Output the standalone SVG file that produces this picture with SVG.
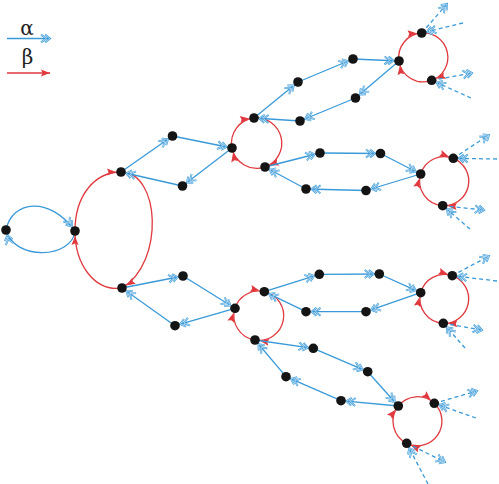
<svg xmlns="http://www.w3.org/2000/svg" width="499" height="484" viewBox="0 0 499 484">
<style>
.b{fill:none;stroke:#3a9ad9;stroke-width:1.3;marker-end:url(#mb)}
.bd{fill:none;stroke:#3a9ad9;stroke-width:1.3;stroke-dasharray:4 3}
.bo{marker-end:url(#mb0)}
.bi{marker-end:url(#mb)}
.r{fill:none;stroke:#e0393e;stroke-width:1.3;marker-end:url(#mr)}
.n{fill:#141414}
.lg{font-family:"DejaVu Serif","Liberation Serif",serif;font-size:20px;fill:#222;text-anchor:middle}
</style>
<defs>
<g id="chev">
<path d="M0,0 L5,4 L0,8 M4,0 L9,4 L4,8" fill="none" stroke="#3a9ad9" stroke-width="1.9" stroke-dasharray="none"/>
<path d="M0,0 L5,4 L0,8 M4,0 L9,4 L4,8" fill="none" stroke="#ffffff" stroke-width="0.5" stroke-dasharray="none"/>
</g>
<marker id="mb" markerUnits="userSpaceOnUse" markerWidth="20" markerHeight="12" refX="14.5" refY="4" orient="auto" overflow="visible"><use href="#chev"/></marker>
<marker id="mb0" markerUnits="userSpaceOnUse" markerWidth="20" markerHeight="12" refX="9" refY="4" orient="auto" overflow="visible"><use href="#chev"/></marker>
<marker id="mr" markerUnits="userSpaceOnUse" markerWidth="20" markerHeight="12" refX="14" refY="3.5" orient="auto" overflow="visible"><path d="M0,0 L9,3.5 L0,7 L1.5,3.5 z" fill="#e0393e"/></marker>
<marker id="mr0" markerUnits="userSpaceOnUse" markerWidth="20" markerHeight="12" refX="9" refY="3.5" orient="auto" overflow="visible"><path d="M0,0 L9,3.5 L0,7 L1.5,3.5 z" fill="#e0393e"/></marker>
</defs>

<g id="legend">
<text class="lg" x="27" y="35">α</text>
<line x1="7" y1="38.5" x2="50" y2="38.5" stroke="#3a9ad9" stroke-width="1.3" marker-end="url(#mb0)"/>
<text class="lg" x="27.5" y="64">β</text>
<line x1="7" y1="73" x2="50" y2="73" stroke="#e0393e" stroke-width="1.3" marker-end="url(#mr0)"/>
</g>

<g id="connectors">
<path class="b" d="M6,230 C12,200 50,196 75,231"/>
<path class="b" d="M75,231 C72,259 14,261 6,230"/>
<path class="r" d="M75,231 C75,195 95,172 121,172"/>
<path class="r" d="M121,172 C160,172 165,262 122,288"/>
<path class="r" d="M122,288 C95,292 75,265 75,231"/>
<line class="b" x1="121" y1="172" x2="172.5" y2="136"/>
<line class="b" x1="172.5" y1="136" x2="232" y2="148"/>
<line class="b" x1="232" y1="148" x2="182.5" y2="186"/>
<line class="b" x1="182.5" y1="186" x2="121" y2="172"/>
<path class="r" d="M232,148 A25.3,25.3 0 0 1 254,118"/>
<path class="r" d="M254,118 A25.3,25.3 0 0 1 265,167"/>
<path class="r" d="M265,167 A25.3,25.3 0 0 1 232,148"/>
<line class="b" x1="254" y1="118" x2="298" y2="82"/>
<line class="b" x1="298" y1="82" x2="353" y2="59"/>
<line class="b" x1="353" y1="59" x2="399" y2="61"/>
<line class="b" x1="399" y1="61" x2="355.5" y2="98"/>
<line class="b" x1="355.5" y1="98" x2="300" y2="121"/>
<line class="b" x1="300" y1="121" x2="254" y2="118"/>
<line class="b" x1="265" y1="167" x2="320" y2="153"/>
<line class="b" x1="320" y1="153" x2="380.5" y2="153.5"/>
<line class="b" x1="380.5" y1="153.5" x2="420.5" y2="174"/>
<line class="b" x1="420.5" y1="174" x2="366" y2="190.5"/>
<line class="b" x1="366" y1="190.5" x2="306" y2="189"/>
<line class="b" x1="306" y1="189" x2="265" y2="167"/>
<line class="b" x1="122" y1="288" x2="183" y2="276"/>
<line class="b" x1="183" y1="276" x2="235" y2="308.3"/>
<line class="b" x1="235" y1="308.3" x2="175" y2="325.7"/>
<line class="b" x1="175" y1="325.7" x2="122" y2="288"/>
<path class="r" d="M235,308.3 A24.6,24.6 0 0 1 264.3,291.7"/>
<path class="r" d="M264.3,291.7 A24.6,24.6 0 0 1 255,340"/>
<path class="r" d="M255,340 A24.6,24.6 0 0 1 235,308.3"/>
<line class="b" x1="264.3" y1="291.7" x2="319.3" y2="274.3"/>
<line class="b" x1="319.3" y1="274.3" x2="379.3" y2="274"/>
<line class="b" x1="379.3" y1="274" x2="420.7" y2="292.7"/>
<line class="b" x1="420.7" y1="292.7" x2="366" y2="311.7"/>
<line class="b" x1="366" y1="311.7" x2="306" y2="311.7"/>
<line class="b" x1="306" y1="311.7" x2="264.3" y2="291.7"/>
<line class="b" x1="255" y1="340" x2="313.3" y2="348.3"/>
<line class="b" x1="313.3" y1="348.3" x2="367.7" y2="371.7"/>
<line class="b" x1="367.7" y1="371.7" x2="398.3" y2="406"/>
<line class="b" x1="398.3" y1="406" x2="341" y2="400.7"/>
<line class="b" x1="341" y1="400.7" x2="286" y2="376.7"/>
<line class="b" x1="286" y1="376.7" x2="255" y2="340"/>
<path class="r" d="M399,61 A24.4,24.4 0 0 1 421.7,33"/>
<path class="r" d="M421.7,33 A24.4,24.4 0 0 1 431.7,80.3"/>
<path class="r" d="M431.7,80.3 A24.4,24.4 0 0 1 399,61"/>
<path class="r" d="M420.7,174 A24.6,24.6 0 0 1 453.3,158.3"/>
<path class="r" d="M453.3,158.3 A24.6,24.6 0 0 1 442.7,205.7"/>
<path class="r" d="M442.7,205.7 A24.6,24.6 0 0 1 420.7,174"/>
<path class="r" d="M420.7,292.7 A24.5,24.5 0 0 1 452.3,275.7"/>
<path class="r" d="M452.3,275.7 A24.5,24.5 0 0 1 443.3,323.3"/>
<path class="r" d="M443.3,323.3 A24.5,24.5 0 0 1 420.7,292.7"/>
<path class="r" d="M398.3,406 A24.6,24.6 0 0 1 434.3,403.3"/>
<path class="r" d="M434.3,403.3 A24.6,24.6 0 0 1 406.7,443.3"/>
<path class="r" d="M406.7,443.3 A24.6,24.6 0 0 1 398.3,406"/>
<line class="bd bo" x1="421.7" y1="33" x2="447" y2="4"/>
<line class="bd bi" x1="463" y1="23" x2="421.7" y2="33"/>
<line class="bd bo" x1="431.7" y1="80.3" x2="472" y2="73"/>
<line class="bd bi" x1="471" y1="98" x2="431.7" y2="80.3"/>
<line class="bd bo" x1="453.3" y1="158.3" x2="489" y2="135"/>
<line class="bd bi" x1="497" y1="159" x2="453.3" y2="158.3"/>
<line class="bd bo" x1="442.7" y1="205.7" x2="484" y2="210"/>
<line class="bd bi" x1="470" y1="229" x2="442.7" y2="205.7"/>
<line class="bd bo" x1="452.3" y1="275.7" x2="489" y2="256"/>
<line class="bd bi" x1="497" y1="281" x2="452.3" y2="275.7"/>
<line class="bd bo" x1="443.3" y1="323.3" x2="482" y2="330"/>
<line class="bd bi" x1="465" y1="348" x2="443.3" y2="323.3"/>
<line class="bd bo" x1="434.3" y1="403.3" x2="477" y2="391"/>
<line class="bd bi" x1="476" y1="418" x2="434.3" y2="403.3"/>
<line class="bd bo" x1="406.7" y1="443.3" x2="445" y2="462"/>
<line class="bd bi" x1="428" y1="484" x2="406.7" y2="443.3"/>
</g>

<g id="n-A"><circle class="n" cx="6" cy="230" r="4.8"/></g>
<g id="n-B"><circle class="n" cx="75" cy="231" r="4.8"/></g>
<g id="n-C"><circle class="n" cx="121" cy="172" r="4.8"/></g>
<g id="n-D"><circle class="n" cx="122" cy="288" r="4.8"/></g>
<g id="n-U1"><circle class="n" cx="172.5" cy="136" r="4.8"/></g>
<g id="n-U2"><circle class="n" cx="182.5" cy="186" r="4.8"/></g>
<g id="n-TU1"><circle class="n" cx="232" cy="148" r="4.8"/></g>
<g id="n-TU2"><circle class="n" cx="254" cy="118" r="4.8"/></g>
<g id="n-TU3"><circle class="n" cx="265" cy="167" r="4.8"/></g>
<g id="n-L1a"><circle class="n" cx="298" cy="82" r="4.8"/></g>
<g id="n-L1b"><circle class="n" cx="353" cy="59" r="4.8"/></g>
<g id="n-L1c"><circle class="n" cx="355.5" cy="98" r="4.8"/></g>
<g id="n-L1d"><circle class="n" cx="300" cy="121" r="4.8"/></g>
<g id="n-R1a"><circle class="n" cx="399" cy="61" r="4.8"/></g>
<g id="n-R1b"><circle class="n" cx="421.7" cy="33" r="4.8"/></g>
<g id="n-R1c"><circle class="n" cx="431.7" cy="80.3" r="4.8"/></g>
<g id="n-L2a"><circle class="n" cx="320" cy="153" r="4.8"/></g>
<g id="n-L2b"><circle class="n" cx="380.5" cy="153.5" r="4.8"/></g>
<g id="n-L2c"><circle class="n" cx="366" cy="190.5" r="4.8"/></g>
<g id="n-L2d"><circle class="n" cx="306" cy="189" r="4.8"/></g>
<g id="n-R2a"><circle class="n" cx="420.7" cy="174" r="4.8"/></g>
<g id="n-R2b"><circle class="n" cx="453.3" cy="158.3" r="4.8"/></g>
<g id="n-R2c"><circle class="n" cx="442.7" cy="205.7" r="4.8"/></g>
<g id="n-V1"><circle class="n" cx="183" cy="276" r="4.8"/></g>
<g id="n-V2"><circle class="n" cx="175" cy="325.7" r="4.8"/></g>
<g id="n-TL1"><circle class="n" cx="235" cy="308.3" r="4.8"/></g>
<g id="n-TL2"><circle class="n" cx="264.3" cy="291.7" r="4.8"/></g>
<g id="n-TL3"><circle class="n" cx="255" cy="340" r="4.8"/></g>
<g id="n-L3a"><circle class="n" cx="319.3" cy="274.3" r="4.8"/></g>
<g id="n-L3b"><circle class="n" cx="379.3" cy="274" r="4.8"/></g>
<g id="n-L3c"><circle class="n" cx="366" cy="311.7" r="4.8"/></g>
<g id="n-L3d"><circle class="n" cx="306" cy="311.7" r="4.8"/></g>
<g id="n-R3a"><circle class="n" cx="420.7" cy="292.7" r="4.8"/></g>
<g id="n-R3b"><circle class="n" cx="452.3" cy="275.7" r="4.8"/></g>
<g id="n-R3c"><circle class="n" cx="443.3" cy="323.3" r="4.8"/></g>
<g id="n-L4a"><circle class="n" cx="313.3" cy="348.3" r="4.8"/></g>
<g id="n-L4b"><circle class="n" cx="367.7" cy="371.7" r="4.8"/></g>
<g id="n-L4c"><circle class="n" cx="341" cy="400.7" r="4.8"/></g>
<g id="n-L4d"><circle class="n" cx="286" cy="376.7" r="4.8"/></g>
<g id="n-R4a"><circle class="n" cx="398.3" cy="406" r="4.8"/></g>
<g id="n-R4b"><circle class="n" cx="434.3" cy="403.3" r="4.8"/></g>
<g id="n-R4c"><circle class="n" cx="406.7" cy="443.3" r="4.8"/></g>
</svg>
